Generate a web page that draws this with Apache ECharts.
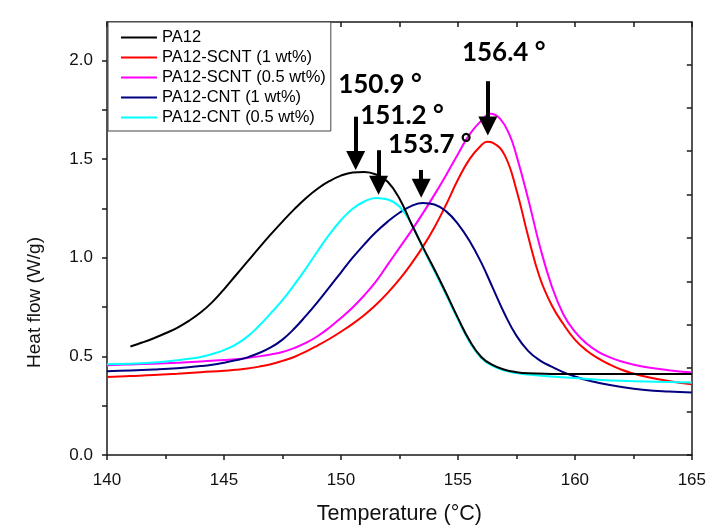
<!DOCTYPE html>
<html>
<head>
<meta charset="utf-8">
<script src="https://cdn.jsdelivr.net/npm/echarts@6/dist/echarts.min.js"></script>
<style>
html,body{margin:0;padding:0;background:#fff;}
#chart{width:709px;height:530px;}
</style>
</head>
<body>
<div id="chart"></div>
<script>
// ---- data ----
var seriesNames = ['PA12', 'PA12-SCNT (1 wt%)', 'PA12-SCNT (0.5 wt%)', 'PA12-CNT (1 wt%)', 'PA12-CNT (0.5 wt%)'];

var tPA12 = [141.0,141.5,142.0,142.5,143.0,143.5,144.0,144.5,145.0,145.5,146.0,146.5,147.0,147.5,148.0,148.5,149.0,149.5,150.0,150.5,151.0,151.5,152.0,152.5,153.0,153.5,154.0,154.5,155.0,155.5,156.0,156.5,157.0,157.5,158.0,159.0,160.0,165.0];
var vPA12 = [0.550,0.570,0.592,0.617,0.645,0.680,0.722,0.775,0.840,0.910,0.980,1.050,1.118,1.183,1.245,1.302,1.350,1.388,1.416,1.432,1.435,1.422,1.385,1.300,1.175,1.055,0.940,0.820,0.695,0.580,0.497,0.455,0.432,0.420,0.414,0.411,0.410,0.410];

var tSCNT1 = [140.0,141.0,142.0,143.0,144.0,145.0,145.5,146.0,146.5,147.0,147.5,148.0,148.5,149.0,149.5,150.0,150.5,151.0,151.5,152.0,152.5,153.0,153.5,154.0,154.5,155.0,155.5,156.0,156.25,156.5,157.0,157.5,158.0,158.5,159.0,159.5,160.0,160.5,161.0,161.5,162.0,162.5,163.0,164.0,165.0];
var vSCNT1 = [0.395,0.400,0.405,0.412,0.420,0.427,0.432,0.438,0.448,0.460,0.477,0.497,0.524,0.555,0.588,0.625,0.665,0.710,0.762,0.822,0.890,0.968,1.055,1.155,1.270,1.395,1.500,1.570,1.588,1.582,1.520,1.345,1.110,0.900,0.762,0.665,0.585,0.530,0.490,0.458,0.432,0.413,0.398,0.375,0.358];

var tSCNT05 = [140.0,141.0,142.0,143.0,144.0,145.0,145.5,146.0,146.5,147.0,147.5,148.0,148.5,149.0,149.5,150.0,150.5,151.0,151.5,152.0,152.5,153.0,153.5,154.0,154.5,155.0,155.5,156.0,156.4,156.8,157.2,157.5,158.0,158.5,159.0,159.5,160.0,160.5,161.0,161.5,162.0,162.5,163.0,164.0,165.0];
var vSCNT05 = [0.455,0.459,0.463,0.468,0.474,0.482,0.486,0.492,0.500,0.510,0.522,0.542,0.568,0.602,0.645,0.695,0.748,0.810,0.880,0.965,1.050,1.135,1.225,1.320,1.420,1.525,1.625,1.695,1.730,1.705,1.625,1.520,1.300,1.060,0.860,0.715,0.625,0.565,0.523,0.495,0.474,0.458,0.446,0.430,0.418];

var tCNT1 = [140.0,141.0,142.0,143.0,144.0,144.5,145.0,145.5,146.0,146.5,147.0,147.5,148.0,148.5,149.0,149.5,150.0,150.5,151.0,151.5,152.0,152.5,153.0,153.5,154.0,154.5,155.0,155.5,156.0,156.5,157.0,157.5,158.0,158.5,159.0,159.5,160.0,160.5,161.0,162.0,163.0,164.0,165.0];
var vCNT1 = [0.425,0.428,0.433,0.440,0.451,0.458,0.468,0.480,0.495,0.517,0.545,0.585,0.640,0.705,0.775,0.850,0.925,1.000,1.068,1.130,1.183,1.228,1.262,1.278,1.270,1.235,1.172,1.085,0.975,0.845,0.715,0.605,0.528,0.480,0.448,0.420,0.398,0.380,0.366,0.345,0.330,0.322,0.317];

var tCNT05 = [140.0,141.0,142.0,142.5,143.0,143.5,144.0,144.5,145.0,145.5,146.0,146.5,147.0,147.5,148.0,148.5,149.0,149.5,150.0,150.5,151.0,151.5,152.0,152.5,153.0,153.5,154.0,154.5,155.0,155.5,156.0,156.5,157.0,157.5,158.0,159.0,160.0,161.0,162.0,163.0,165.0];
var vCNT05 = [0.460,0.463,0.469,0.474,0.480,0.488,0.497,0.512,0.532,0.560,0.600,0.655,0.718,0.785,0.862,0.945,1.033,1.117,1.190,1.248,1.285,1.303,1.295,1.260,1.175,1.050,0.932,0.812,0.688,0.573,0.492,0.450,0.428,0.415,0.408,0.398,0.390,0.382,0.376,0.372,0.367];

// peak annotation labels and arrows (temperature, value)
var peakLabels = ['150.9 °', '151.2 °', '153.7 °', '156.4 °'];
var labelT = [151.67, 152.61, 153.80, 156.96];
var labelV = [1.8775, 1.7225, 1.575, 2.04];
var arrowT = [150.63, 151.61, 153.43, 156.28];
var arrowTopV = [1.715, 1.545, 1.445, 1.895];
var arrowTipV = [1.445, 1.32, 1.305, 1.62];

var yLabelVals = [0, 0.5, 1.0, 1.5, 2.0];
var yTickVals = [0, 0.25, 0.5, 0.75, 1.0, 1.25, 1.5, 1.75, 2.0];
var rightTickVals = [0, 1, 2, 3, 4, 5, 6, 7, 8, 9];

var colors = ['#000000', '#ff0000', '#ff00ff', '#000080', '#00ffff'];

function zip(t, v) { return t.map(function (x, i) { return [x, v[i]]; }); }
var allT = [tPA12, tSCNT1, tSCNT05, tCNT1, tCNT05];
var allV = [vPA12, vSCNT1, vSCNT05, vCNT1, vCNT05];

var FONT = '"Liberation Sans", Arial, sans-serif';
var AXC = '#1a1a1a';

var series = seriesNames.map(function (n, i) {
  return {
    name: n, type: 'line', data: zip(allT[i], allV[i]),
    xAxisIndex: 0, yAxisIndex: 0,
    smooth: 0.45, showSymbol: false, symbol: 'none',
    lineStyle: { color: colors[i], width: 2 }, itemStyle: { color: colors[i] },
    z: 2 + (i === 0 ? 5 : 0), silent: true, animation: false
  };
});

// arrow head: markLine end symbol is centred on the end point -> shift by half its size
var ARW = 19;
var PX_PER_UNIT = 200; // y pixels per W/g in this layout
var headShift = (ARW / 2) / PX_PER_UNIT;

series.push({
  name: 'annot', type: 'line', data: [], xAxisIndex: 0, yAxisIndex: 0, silent: true, animation: false,
  markLine: {
    silent: true, animation: false,
    symbol: ['none', 'triangle'], symbolSize: ARW,
    label: { show: false },
    lineStyle: { color: '#000', width: 4, type: 'solid' },
    data: arrowT.map(function (t, i) {
      return [{ coord: [t, arrowTopV[i]] }, { coord: [t, arrowTipV[i] + headShift] }];
    })
  },
  markPoint: {
    silent: true, animation: false,
    symbol: 'circle', symbolSize: 0,
    label: { show: true, position: 'inside', color: '#000', fontFamily: 'Lato, "Open Sans", sans-serif', fontWeight: 'bold', fontSize: 26,
             formatter: function (p) { return p.name; } },
    data: peakLabels.map(function (s, i) { return { name: s, coord: [labelT[i], labelV[i]] }; })
  },
  z: 10
});

var option = {
  backgroundColor: '#ffffff',
  animation: false,
  color: colors,
  grid: { left: 107, right: 14, top: 22, bottom: 69, containLabel: false },
  legend: {
    data: seriesNames,
    orient: 'vertical', left: 108, top: 22,
    padding: [7, 5, 5, 13],
    itemWidth: 36, itemHeight: 2, itemGap: 3,
    icon: 'rect',
    borderColor: '#444', borderWidth: 1, backgroundColor: '#fff',
    textStyle: { fontFamily: FONT, fontSize: 16.5, lineHeight: 17, color: '#000' },
    selectedMode: false
  },
  xAxis: [
    {
      type: 'value', min: 140, max: 165, interval: 5, position: 'bottom',
      axisLine: { show: true, onZero: false, lineStyle: { color: AXC, width: 1.5 } },
      axisTick: { show: true, inside: false, length: 5, lineStyle: { color: AXC, width: 1.5 } },
      minorTick: { show: true, splitNumber: 2, length: 4, lineStyle: { color: AXC, width: 1.5 } },
      axisLabel: { fontFamily: FONT, fontSize: 17, color: '#111', margin: 17 },
      splitLine: { show: false },
      name: 'Temperature (°C)', nameLocation: 'middle', nameGap: 48,
      nameTextStyle: { fontFamily: FONT, fontSize: 21.5, color: '#111' }
    },
    {
      type: 'value', min: 140, max: 165, interval: 2.5, position: 'top',
      axisLine: { show: true, onZero: false, lineStyle: { color: AXC, width: 1.5 } },
      axisTick: { show: true, inside: true, length: 5, lineStyle: { color: AXC, width: 1.5 } },
      axisLabel: { show: false }, splitLine: { show: false }
    }
  ],
  yAxis: [
    {
      type: 'value', min: 0, max: 2.195, position: 'left',
      axisLine: { show: true, onZero: false, lineStyle: { color: AXC, width: 1.5 } },
      axisTick: { show: true, inside: false, length: 5, customValues: yTickVals, lineStyle: { color: AXC, width: 1.5 } },
      axisLabel: { fontFamily: FONT, fontSize: 17, color: '#111', margin: 14, customValues: yLabelVals,
                   formatter: function (v) { return v.toFixed(1); } },
      splitLine: { show: false },
      name: 'Heat flow (W/g)', nameLocation: 'middle', nameGap: 63, nameRotate: 90,
      nameTextStyle: { fontFamily: FONT, fontSize: 19, color: '#111', padding: [0, 128, 0, 0] }
    },
    {
      type: 'value', min: 0, max: 9.977, position: 'right',
      axisLine: { show: true, onZero: false, lineStyle: { color: AXC, width: 1.5 } },
      axisTick: { show: true, inside: true, length: 5, customValues: rightTickVals, lineStyle: { color: AXC, width: 1.5 } },
      axisLabel: { show: false }, splitLine: { show: false }
    }
  ],
  series: series
};

var chart = echarts.init(document.getElementById('chart'), null, { renderer: 'canvas' });
chart.setOption(option);
</script>
</body>
</html>
